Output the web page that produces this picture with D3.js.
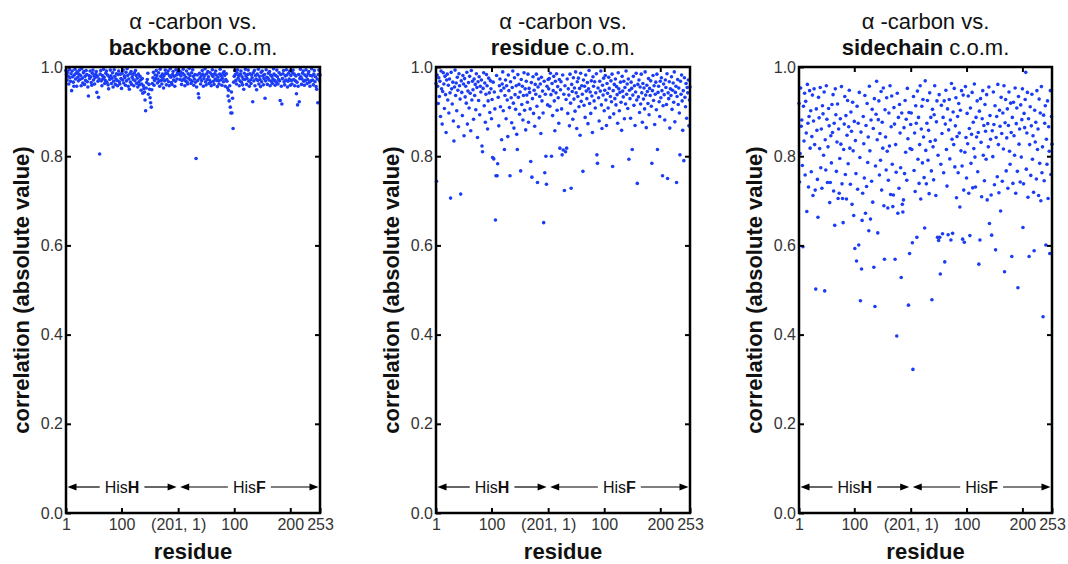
<!DOCTYPE html>
<html>
<head>
<meta charset="utf-8">
<script src="https://cdn.jsdelivr.net/npm/d3@7"></script>
<style>
  body { margin: 0; background: #fff; }
  svg { font-family: "Liberation Sans", Arial, sans-serif; }
</style>
</head>
<body>
<div id="chart"></div>
<script>
// residue index runs 1..454 : HisH 1-201, then HisF 1-253
const residueTicks  = [1, 100, 201, 301, 401, 454]
const residueLabels = ["1", "100", "(201, 1)", "100", "200", "253"]
const hisHLength = 201
const corrTicks = [0, 0.2, 0.4, 0.6, 0.8, 1.0]
const panelNames = ["backbone", "residue", "sidechain"]

// alpha-carbon vs backbone c.o.m.
const backboneHisH = [
.992,.983,.971,.988,.979,.962,.994,.976,.968,.985,.947,.991,.978,.966,.957,.982,.995,.973,.986,.957,
.989,.977,.969,.984,.993,.972,.981,.958,.996,.975,.964,.987,.990,.961,.979,.970,.992,.983,.967,.955,
.935,.981,.974,.991,.978,.965,.959,.986,.993,.971,.980,.962,.976,.984,.990,.943,.979,.968,.932,.973,
.805,.984,.992,.969,.958,.981,.974,.995,.977,.963,.970,.986,.991,.966,.982,.960,.951,.978,.972,.993,
.980,.963,.975,.987,.955,.968,.994,.979,.961,.973,.985,.970,.958,.983,.991,.967,.962,.984,.974,.952,
.986,.971,.993,.964,.980,.976,.959,.988,.969,.996,.981,.957,.973,.950,.985,.966,.990,.961,.977,.983,
.972,.958,.987,.969,.992,.981,.963,.975,.955,.984,.967,.960,.979,.971,.948,.962,.974,.941,.958,.952,
.944,.926,.902,.953,.965,.972,.986,.939,.961,.950,.931,.920,.910,.949,.963,.976,.988,.959,.970,.982,
.974,.992,.981,.964,.973,.987,.968,.957,.995,.979,.970,.962,.984,.975,.953,.981,.969,.993,.986,.960,
.972,.985,.991,.967,.958,.980,.996,.977,.965,.961,.983,.990,.971,.979,.957,.968,.994,.982,.973,.987,
.992]
const backboneHisF = [
.993,.984,.972,.989,.980,.961,.970,.986,.995,.973,.982,.958,.969,.977,.991,.966,.962,.985,.974,.997,
.981,.971,.963,.987,.968,.994,.979,.959,.973,.983,.966,.795,.955,.982,.970,.940,.931,.986,.975,.962,
.980,.969,.992,.984,.957,.974,.981,.996,.967,.960,.985,.972,.990,.978,.963,.971,.987,.966,.958,.983,
.994,.979,.968,.961,.985,.973,.991,.982,.970,.956,.977,.969,.962,.984,.995,.971,.980,.959,.974,.986,
.967,.990,.981,.957,.972,.985,.968,.953,.935,.948,.924,.958,.910,.897,.944,.897,.930,.862,.966,.979,
.992,.983,.970,.962,.987,.994,.975,.981,.958,.969,.984,.991,.966,.978,.960,.973,.950,.986,.972,.995,
.980,.961,.974,.983,.993,.968,.957,.985,.971,.963,.982,.976,.922,.987,.969,.992,.958,.981,.973,.949,
.984,.970,.995,.962,.979,.972,.956,.988,.967,.991,.980,.960,.974,.983,.930,.969,.994,.977,.961,.975,
.986,.971,.990,.958,.982,.968,.979,.963,.973,.996,.984,.970,.959,.981,.966,.993,.978,.962,.972,.987,
.969,.925,.983,.957,.917,.974,.985,.992,.967,.960,.980,.971,.994,.982,.955,.968,.986,.973,.991,.959,
.981,.970,.962,.987,.993,.972,.984,.958,.969,.980,.940,.966,.915,.957,.983,.922,.974,.995,.978,.961,
.973,.986,.991,.968,.959,.982,.970,.994,.979,.963,.972,.985,.990,.966,.957,.981,.969,.996,.980,.971,
.960,.984,.992,.967,.978,.956,.950,.973,.920,.983,.993,.969,.982]

// alpha-carbon vs residue c.o.m.
const residueHisH = [
.963,.744,.982,.957,.918,.976,.934,.968,.889,.991,.951,.872,.945,.987,.962,.907,.979,.938,.853,.971,
.984,.926,.959,.897,.973,.942,.706,.988,.951,.917,.966,.879,.834,.955,.993,.936,.964,.902,.977,.948,
.866,.985,.958,.928,.715,.969,.943,.891,.981,.962,.846,.974,.933,.957,.919,.988,.872,.946,.965,.908,
.979,.941,.857,.992,.926,.968,.949,.883,.973,.936,.961,.904,.985,.954,.842,.967,.925,.978,.893,.957,
.944,.971,.823,.810,.952,.987,.913,.964,.876,.939,.983,.958,.861,.924,.975,.942,.898,.969,.951,.884,
.927,.797,.966,.794,.944,.906,.657,.756,.981,.756,.783,.932,.868,.958,.973,.911,.947,.837,.962,.989,
.902,.953,.815,.936,.971,.884,.958,.926,.844,.982,.947,.909,.756,.967,.931,.875,.954,.991,.919,.863,
.976,.938,.905,.958,.849,.815,.983,.932,.961,.894,.944,.767,.972,.916,.957,.881,.936,.987,.903,.951,
.859,.968,.937,.921,.984,.876,.952,.943,.906,.788,.965,.753,.929,.978,.896,.948,.867,.961,.939,.984,
.912,.741,.955,.973,.886,.934,.962,.851,.977,.924,.946,.897,.651,.968,.763,.939,.800,.737,.957,.915,
.972]
const residueHisF = [
.951,.974,.912,.986,.938,.800,.963,.891,.947,.979,.924,.857,.968,.942,.985,.903,.956,.931,.874,.972,
.818,.949,.967,.906,.803,.982,.814,.939,.723,.958,.810,.927,.818,.973,.896,.951,.937,.868,.984,.919,
.728,.961,.945,.883,.976,.928,.953,.901,.989,.942,.862,.967,.934,.975,.911,.952,.847,.986,.923,.958,
.939,.766,.971,.914,.957,.887,.982,.946,.929,.965,.873,.951,.992,.918,.944,.896,.969,.935,.853,.978,
.957,.924,.967,.908,.942,.985,.803,.784,.953,.931,.879,.968,.946,.991,.915,.862,.959,.937,.975,.902,
.948,.981,.926,.869,.963,.941,.908,.977,.952,.887,.934,.969,.922,.984,.777,.947,.895,.961,.929,.973,
.915,.956,.938,.874,.987,.951,.902,.943,.966,.921,.858,.979,.946,.933,.968,.884,.954,.917,.991,.939,
.962,.907,.973,.793,.948,.929,.885,.966,.952,.815,.937,.979,.914,.958,.869,.944,.986,.926,.739,.961,
.933,.971,.898,.955,.917,.984,.942,.876,.963,.928,.953,.906,.989,.937,.864,.959,.945,.918,.974,.893,
.952,.936,.969,.912,.784,.947,.981,.925,.958,.871,.939,.966,.904,.984,.815,.943,.957,.922,.889,.968,
.931,.976,.947,.756,.913,.962,.938,.881,.971,.954,.916,.985,.750,.942,.929,.967,.863,.951,.936,.978,
.905,.948,.964,.921,.989,.877,.943,.957,.741,.934,.972,.916,.953,.897,.803,.968,.939,.982,.924,.858,
.947,.790,.976,.932,.911,.963,.885,.954,.942,.971,.868,.926,.955]

// alpha-carbon vs sidechain c.o.m.
const sidechainHisH = [
.918,.742,.806,.953,.867,.881,.779,.597,.912,.834,.941,.758,.923,.852,.676,.961,.874,.731,.889,.947,
.818,.902,.765,.844,.937,.712,.879,.951,.826,.724,.502,.906,.858,.748,.663,.932,.886,.817,.954,.774,
.861,.728,.913,.895,.802,.944,.498,.837,.769,.958,.883,.741,.821,.907,.868,.696,.741,.846,.785,.916,
.853,.938,.722,.874,.645,.951,.893,.766,.832,.917,.705,.861,.717,.795,.884,.827,.956,.738,.705,.651,
.815,.872,.934,.759,.891,.704,.847,.925,.783,.866,.948,.818,.737,.899,.856,.692,.921,.812,.667,.878,
.593,.835,.761,.565,.912,.726,.874,.601,.943,.797,.476,.854,.547,.656,.717,.889,.828,.751,.936,.672,
.869,.732,.918,.786,.843,.633,.957,.812,.659,.881,.744,.905,.697,.862,.551,.929,.463,.778,.894,.968,
.837,.628,.882,.924,.758,.851,.791,.945,.724,.876,.818,.953,.689,.569,.904,.843,.769,.931,.811,.684,
.746,.897,.823,.958,.714,.866,.935,.782,.687,.713,.909,.872,.569,.826,.764,.397,.941,.672,.887,.728,
.916,.852,.774,.528,.897,.692,.675,.702,.864,.761,.925,.809,.883,.746,.952,.839,.466,.898,.582,.817,
.871]
const sidechainHisF = [
.897,.815,.606,.322,.934,.768,.852,.721,.913,.874,.618,.946,.793,.887,.739,.826,.958,.704,.861,.912,
.785,.927,.843,.752,.639,.969,.813,.738,.874,.925,.791,.858,.716,.942,.833,.887,.767,.478,.905,.821,
.747,.893,.958,.836,.712,.877,.924,.618,.802,.611,.938,.618,.536,.782,.914,.851,.626,.887,.763,.924,
.563,.872,.948,.815,.733,.906,.624,.859,.927,.794,.881,.612,.963,.838,.627,.899,.826,.952,.776,.868,
.931,.707,.844,.889,.763,.918,.852,.686,.903,.812,.947,.778,.614,.937,.724,.607,.809,.956,.842,.751,
.896,.828,.935,.717,.862,.622,.908,.784,.849,.943,.729,.876,.817,.962,.798,.731,.887,.843,.924,.765,
.853,.558,.901,.612,.929,.831,.709,.884,.947,.802,.869,.745,.916,.856,.793,.938,.702,.873,.821,.955,
.649,.891,.838,.713,.623,.857,.799,.944,.871,.736,.913,.590,.842,.889,.754,.961,.826,.718,.903,.867,
.677,.932,.851,.744,.897,.816,.958,.541,.875,.927,.767,.841,.906,.728,.869,.944,.811,.782,.919,.853,
.575,.887,.739,.921,.846,.802,.953,.717,.873,.908,.766,.505,.934,.827,.861,.742,.915,.798,.882,.951,
.640,.738,.896,.864,.927,.988,.771,.852,.943,.708,.884,.575,.826,.911,.757,.868,.939,.793,.846,.719,
.588,.903,.832,.876,.749,.947,.815,.861,.712,.928,.784,.897,.700,.956,.763,.821,.440,.892,.745,.874,
.913,.601,.838,.782,.924,.705,.866,.811,.582,.947,.759,.889,.827]

const seriesHisH = [backboneHisH, residueHisH, sidechainHisH]
const seriesHisF = [backboneHisF, residueHisF, sidechainHisF]

// layout
const W = 1068, H = 564
const plotTop = 67, plotBottom = 513
const panelLeft = [66, 436, 799]
const panelWidth = [254, 254, 253]
const dotColor = "#1a3cf5"
const labelColor = "#333"

const svg = d3.select("#chart").append("svg")
    .attr("width", W)
    .attr("height", H)

const yScale = d3.scaleLinear()
    .domain([0, 1])
    .range([plotBottom, plotTop])

panelNames.forEach((name, i) => {
    const left = panelLeft[i], right = left + panelWidth[i]
    const g = svg.append("g").attr("class", "panel")

    const xScale = d3.scaleLinear()
        .domain([1, hisHLength + 253])
        .range([left, right])

    const points = seriesHisH[i].map((v, k) => ({ r: k + 1, v }))
        .concat(seriesHisF[i].map((v, k) => ({ r: hisHLength + k + 1, v })))

    // title
    const title = g.append("text")
        .attr("text-anchor", "middle")
        .attr("font-size", 22)
        .attr("fill", "#111")
    title.append("tspan")
        .attr("x", (left + right) / 2).attr("y", 29)
        .text("α -carbon vs.")
    const line2 = title.append("tspan")
        .attr("x", (left + right) / 2).attr("y", 55)
    line2.append("tspan").attr("font-weight", "bold").text(name)
    line2.append("tspan").text(" c.o.m.")

    // dots
    g.append("g").selectAll("circle")
        .data(points)
        .join("circle")
            .attr("cx", d => xScale(d.r))
            .attr("cy", d => yScale(d.v))
            .attr("r", 1.8)
            .attr("fill", dotColor)

    // axes (ticks point into the box)
    const xAx = d3.axisBottom(xScale)
        .tickValues(residueTicks)
        .tickFormat((d, k) => residueLabels[k])
        .tickSizeInner(-5).tickSizeOuter(0).tickPadding(6)
    const xTop = d3.axisTop(xScale)
        .tickValues(residueTicks.slice(1, 5))
        .tickFormat("")
        .tickSizeInner(-5).tickSizeOuter(0)
    const yAx = d3.axisLeft(yScale)
        .tickValues(corrTicks)
        .tickFormat(d3.format(".1f"))
        .tickSizeInner(-5).tickSizeOuter(0).tickPadding(3)
    const yRight = d3.axisRight(yScale)
        .tickValues(corrTicks.slice(1, 5))
        .tickFormat("")
        .tickSizeInner(-5).tickSizeOuter(0)

    const axes = [
        g.append("g").attr("transform", `translate(0,${plotBottom})`).call(xAx),
        g.append("g").attr("transform", `translate(0,${plotTop})`).call(xTop),
        g.append("g").attr("transform", `translate(${left},0)`).call(yAx),
        g.append("g").attr("transform", `translate(${right},0)`).call(yRight)
    ]
    axes.forEach(a => {
        a.select(".domain").remove()
        a.selectAll(".tick line").attr("stroke", "#000").attr("stroke-width", 2)
        a.selectAll(".tick text")
            .attr("fill", labelColor)
            .attr("font-size", 16)
            .attr("font-family", "'Liberation Sans', Arial, sans-serif")
    })

    // frame
    g.append("rect")
        .attr("x", left).attr("y", plotTop)
        .attr("width", right - left).attr("height", plotBottom - plotTop)
        .attr("fill", "none")
        .attr("stroke", "#000")
        .attr("stroke-width", 2.5)

    // axis titles
    g.append("text")
        .attr("transform", `translate(${left - 37},${(plotTop + plotBottom) / 2}) rotate(-90)`)
        .attr("text-anchor", "middle")
        .attr("font-size", 22)
        .attr("font-weight", "bold")
        .attr("fill", "#111")
        .text("correlation (absolute value)")

    g.append("text")
        .attr("x", (left + right) / 2).attr("y", 559)
        .attr("text-anchor", "middle")
        .attr("font-size", 22)
        .attr("font-weight", "bold")
        .attr("fill", "#111")
        .text("residue")

    // HisH / HisF range arrows
    const ay = 487
    const spans = [
        { from: 1, to: hisHLength, label: "H" },
        { from: hisHLength + 1, to: hisHLength + 253, label: "F" }
    ]
    spans.forEach(s => {
        const x0 = xScale(s.from) + 1.5, x1 = xScale(s.to) - 1.5
        const cx = (xScale(s.from) + xScale(s.to)) / 2
        const t = g.append("text")
            .attr("x", cx).attr("y", ay + 5.5)
            .attr("text-anchor", "middle")
            .attr("font-size", 16)
            .attr("fill", "#111")
        t.append("tspan").text("His")
        t.append("tspan").attr("font-weight", "bold").text(s.label)
        const half = t.node().getComputedTextLength() / 2
        const gap = 5
        g.append("line")
            .attr("x1", x0 + 6).attr("x2", cx - half - gap)
            .attr("y1", ay).attr("y2", ay)
            .attr("stroke", "#000").attr("stroke-width", 1.2)
        g.append("line")
            .attr("x1", cx + half + gap).attr("x2", x1 - 6)
            .attr("y1", ay).attr("y2", ay)
            .attr("stroke", "#000").attr("stroke-width", 1.2)
        g.append("path")
            .attr("d", `M${x0},${ay} l9,-3.5 l0,7 Z`)
            .attr("fill", "#000")
        g.append("path")
            .attr("d", `M${x1},${ay} l-9,-3.5 l0,7 Z`)
            .attr("fill", "#000")
    })
})
</script>
</body>
</html>
